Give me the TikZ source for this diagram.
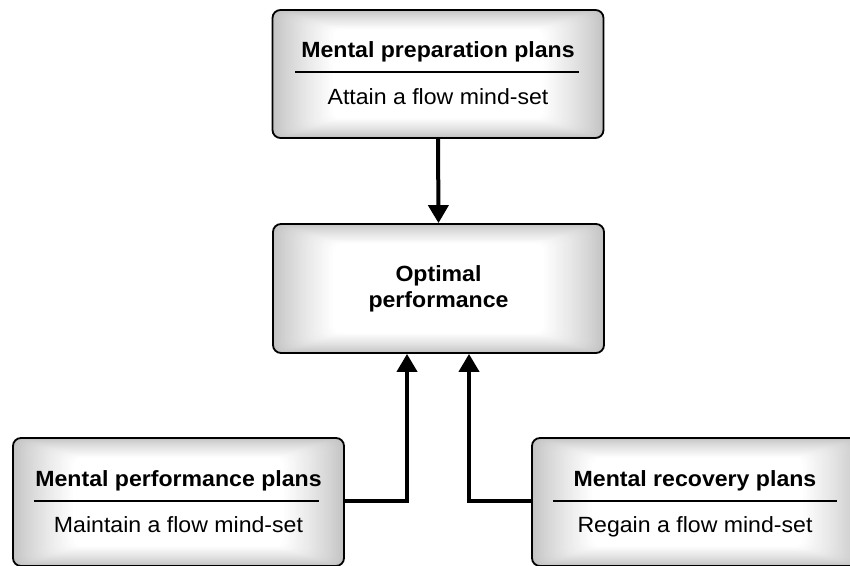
\documentclass[tikz,border=0pt]{standalone}
\usepackage{fontspec}
\setmainfont[FakeStretch=1.05]{Liberation Sans}
\usetikzlibrary{arrows.meta,calc}
\colorlet{edgegray}{black!24}
\tikzset{
  box/.style={draw, line width=1.8pt, rounded corners=8pt, minimum width=331pt,
    minimum height=128pt, inner sep=0pt,
    path picture={
      \foreach \i in {0,...,30}{
        \pgfmathsetmacro\c{100*(\i/30)^0.8}
        \fill[white!\c!edgegray]
          ($(path picture bounding box.south west)+(\i*2pt,\i*0.65pt)$) rectangle
          ($(path picture bounding box.north east)-(\i*2pt,\i*0.65pt)$);
      }
    }},
  title/.style={anchor=base, font=\fontsize{22}{26}\selectfont\bfseries, inner sep=0pt},
  sub/.style={anchor=base, font=\fontsize{22}{26}\selectfont, inner sep=0pt},
  rule/.style={line width=2pt},
  conn/.style={line width=4pt, -{Triangle[width=20pt,length=18pt]}}
}
\begin{document}
\begin{tikzpicture}[x=1pt,y=1pt]
\clip (0,0) rectangle (850,565);
% boxes
\node[box] (prep) at (438,491) {};
\node[box, minimum height=129pt] (opt) at (438.5,276.5) {};
\node[box] (perf) at (178.5,63) {};
\node[box] (reco) at (697.5,63) {};
% top box texts
\node[title] (prept) at (438,507) {Mental preparation plans};
\draw[rule] (295,492.5) coordinate (prepl) -- (579,492.5) coordinate (prepr);
\node[sub] (preps) at (438,460) {Attain a flow mind-set};
% middle
\node[font=\fontsize{22}{26}\selectfont\bfseries, align=center] (optt) at (opt.center) {Optimal\\performance};
% left
\node[title] (perft) at (178.5,78.5) {Mental performance plans};
\draw[rule] (34,64) coordinate (perfl) -- (319,64) coordinate (perfr);
\node[sub] (perfs) at (178.5,32.5) {Maintain a flow mind-set};
% right
\node[title] (recot) at (695,78.5) {Mental recovery plans};
\draw[rule] (553,64) coordinate (recol) -- (837,64) coordinate (recor);
\node[sub] (recos) at (695,32.5) {Regain a flow mind-set};
% connectors
\draw[conn] (prep.south) -- (opt.north);
\draw[conn] ([yshift=1pt]perf.east) -| ([xshift=-31.5pt]opt.south);
\draw[conn] ([yshift=1pt]reco.west) -| ([xshift=30.5pt]opt.south);
\end{tikzpicture}
\end{document}
